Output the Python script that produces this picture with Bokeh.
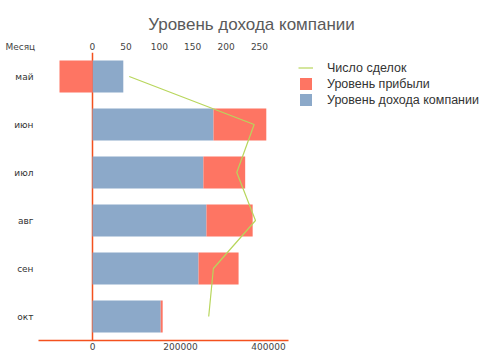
from bokeh.plotting import figure
from bokeh.models import (FactorRange, Range1d, LinearAxis, FixedTicker, Span,
                          Legend, LegendItem, LabelSet, ColumnDataSource)
from bokeh.core.properties import value
from bokeh.embed import file_html
from bokeh.resources import INLINE
import numpy as np

months = ["май", "июн", "июл", "авг", "сен", "окт"]
income = [70000, 275000, 252000, 259000, 241000, 155000]
profit = [-75000, 120000, 95000, 105000, 91000, 4500]
deals = [55, 242, 216, 244, 181, 174]
bottom_ticks = [0, 200000, 400000]
top_ticks = [0, 50, 100, 150, 200, 250]

BLUE = "#8ca9c9"
RED = "#fe7563"
GREEN = "#b8d65c"
ORANGE = "#f4511e"
FONT = "DejaVu Sans"

inc = np.array(income, dtype=float)
pro = np.array(profit, dtype=float)
red_left = np.where(pro >= 0, inc, 0)
red_right = np.where(pro >= 0, inc + pro, pro)

src = ColumnDataSource(dict(m=months, inc=inc, zero=np.zeros(len(months)),
                            rl=red_left, rr=red_right, deals=deals))

# frame spans the full canvas width; 0 sits at x=92 px
p = figure(width=502, height=356, output_backend="svg", toolbar_location=None,
           y_range=FactorRange(factors=list(reversed(months)), range_padding=0),
           x_range=Range1d(-209091, 931818),
           x_axis_location=None, y_axis_location=None,
           min_border_left=0, min_border_right=0,
           min_border_top=52, min_border_bottom=16)
p.extra_x_ranges = {"deals": Range1d(-137.7, 613.8)}
p.outline_line_color = None
p.xgrid.visible = False
p.ygrid.visible = False
p.background_fill_color = "white"
p.border_fill_color = "white"

p.title.text = "Уровень дохода компании"
p.title.align = "center"
p.title.text_font = "Liberation Sans"
p.title.text_font_size = "17px"
p.title.text_font_style = "normal"
p.title.text_color = "#5a5a5a"

p.add_layout(Span(location=0, dimension="height", line_color=ORANGE,
                  line_width=1.5, level="underlay"))

r_blue = p.hbar(y="m", left="zero", right="inc", height=0.67, source=src,
                fill_color=BLUE, line_color=None)
r_red = p.hbar(y="m", left="rl", right="rr", height=0.67, source=src,
               fill_color=RED, line_color=None)
r_line = p.line(x="deals", y="m", source=src, x_range_name="deals",
                line_color=GREEN, line_width=1.2)

# category labels
p.add_layout(LabelSet(x=33, y="m", x_units="screen", text="m", source=src,
                      text_align="right", text_baseline="middle",
                      text_font=value(FONT), text_font_size=value("9px"),
                      text_color="#333333"))

# bottom axis
xb = LinearAxis(ticker=FixedTicker(ticks=bottom_ticks), bounds=(-122700, 445450))
xb.axis_line_color = ORANGE
xb.axis_line_width = 1.5
xb.major_tick_line_color = None
xb.major_tick_in = 0
xb.major_tick_out = 0
xb.minor_tick_line_color = None
xb.major_label_standoff = 2
xb.major_label_text_font = FONT
xb.major_label_text_font_size = "9px"
xb.major_label_text_color = "#444444"
xb.formatter.use_scientific = False
p.add_layout(xb, "below")

# top axis for deals, with the "Месяц" header in the same row
xt = LinearAxis(x_range_name="deals", ticker=FixedTicker(ticks=[-108] + top_ticks))
xt.major_label_overrides = {-108: "Месяц"}
xt.axis_line_color = None
xt.major_tick_line_color = None
xt.major_tick_in = 0
xt.major_tick_out = 0
xt.minor_tick_line_color = None
xt.major_label_standoff = 1
xt.major_label_text_font = FONT
xt.major_label_text_font_size = "9px"
xt.major_label_text_color = "#444444"
p.add_layout(xt, "above")

legend = Legend(items=[
    LegendItem(label="Число сделок", renderers=[r_line]),
    LegendItem(label="Уровень прибыли", renderers=[r_red]),
    LegendItem(label="Уровень дохода компании", renderers=[r_blue]),
], location=(298, 233))
legend.border_line_color = None
legend.background_fill_alpha = 0
legend.label_text_font = "Liberation Sans"
legend.label_text_font_size = "12.5px"
legend.label_text_color = "#333333"
legend.glyph_width = 15
legend.glyph_height = 15
legend.spacing = 1
legend.padding = 2
legend.margin = 0
legend.label_standoff = 14
p.add_layout(legend, "center")

open("out.html", "w").write(file_html(p, INLINE))
